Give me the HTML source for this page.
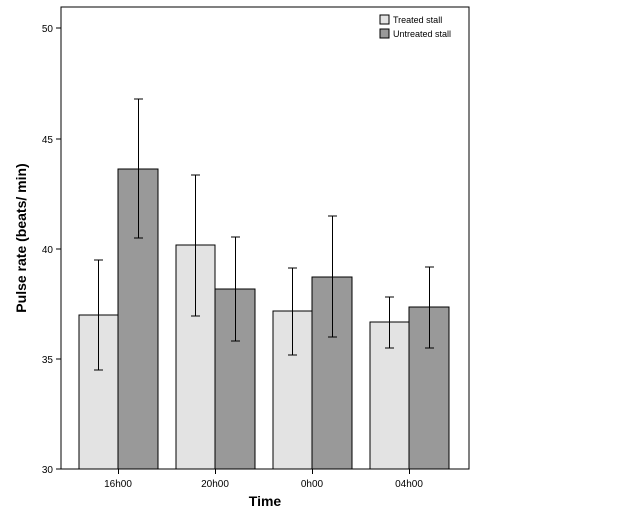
<!DOCTYPE html>
<html><head><style>body{margin:0;background:#fff}</style></head><body>
<svg width="625" height="520" xmlns="http://www.w3.org/2000/svg" font-family="Liberation Sans, sans-serif">
<rect width="625" height="520" fill="#fff"/>
<rect x="61" y="7" width="408" height="462" fill="#fff" stroke="#000" stroke-width="1"/>
<g stroke="#000" stroke-width="1">
<rect x="79" y="315" width="39" height="154" fill="#e3e3e3"/>
<rect x="118" y="169" width="40" height="300" fill="#999"/>
<rect x="176" y="245" width="39" height="224" fill="#e3e3e3"/>
<rect x="215" y="289" width="40" height="180" fill="#999"/>
<rect x="273" y="311" width="39" height="158" fill="#e3e3e3"/>
<rect x="312" y="277" width="40" height="192" fill="#999"/>
<rect x="370" y="322" width="39" height="147" fill="#e3e3e3"/>
<rect x="409" y="307" width="40" height="162" fill="#999"/>
</g>
<g stroke="#000" stroke-width="1" fill="none">
<path d="M98.5 260V370M94 260h9M94 370h9"/>
<path d="M138.5 99V238M134 99h9M134 238h9"/>
<path d="M195.5 175V316M191 175h9M191 316h9"/>
<path d="M235.5 237V341M231 237h9M231 341h9"/>
<path d="M292.5 268V355M288 268h9M288 355h9"/>
<path d="M332.5 216V337M328 216h9M328 337h9"/>
<path d="M389.5 297V348M385 297h9M385 348h9"/>
<path d="M429.5 267V348M425 267h9M425 348h9"/>
<path d="M56 469h5M56 359h5M56 249h5M56 139h5M56 28h5"/>
<path d="M118.5 469v5M215.5 469v5M312.5 469v5M409.5 469v5"/>
</g>
<g font-size="10" text-anchor="end">
<text x="53" y="473">30</text><text x="53" y="363">35</text><text x="53" y="253">40</text><text x="53" y="143">45</text><text x="53" y="32">50</text>
</g>
<g font-size="10" text-anchor="middle">
<text x="118" y="487">16h00</text><text x="215" y="487">20h00</text><text x="312" y="487">0h00</text><text x="409" y="487">04h00</text>
</g>
<text x="265" y="506" font-size="14" font-weight="bold" text-anchor="middle">Time</text>
<text transform="translate(26,238) rotate(-90)" font-size="14" font-weight="bold" text-anchor="middle">Pulse rate (beats/ min)</text>
<rect x="380" y="15" width="9" height="9" fill="#e3e3e3" stroke="#000"/>
<rect x="380" y="29" width="9" height="9" fill="#999" stroke="#000"/>
<text x="393" y="23" font-size="9">Treated stall</text>
<text x="393" y="37" font-size="9">Untreated stall</text>
</svg>
</body></html>
